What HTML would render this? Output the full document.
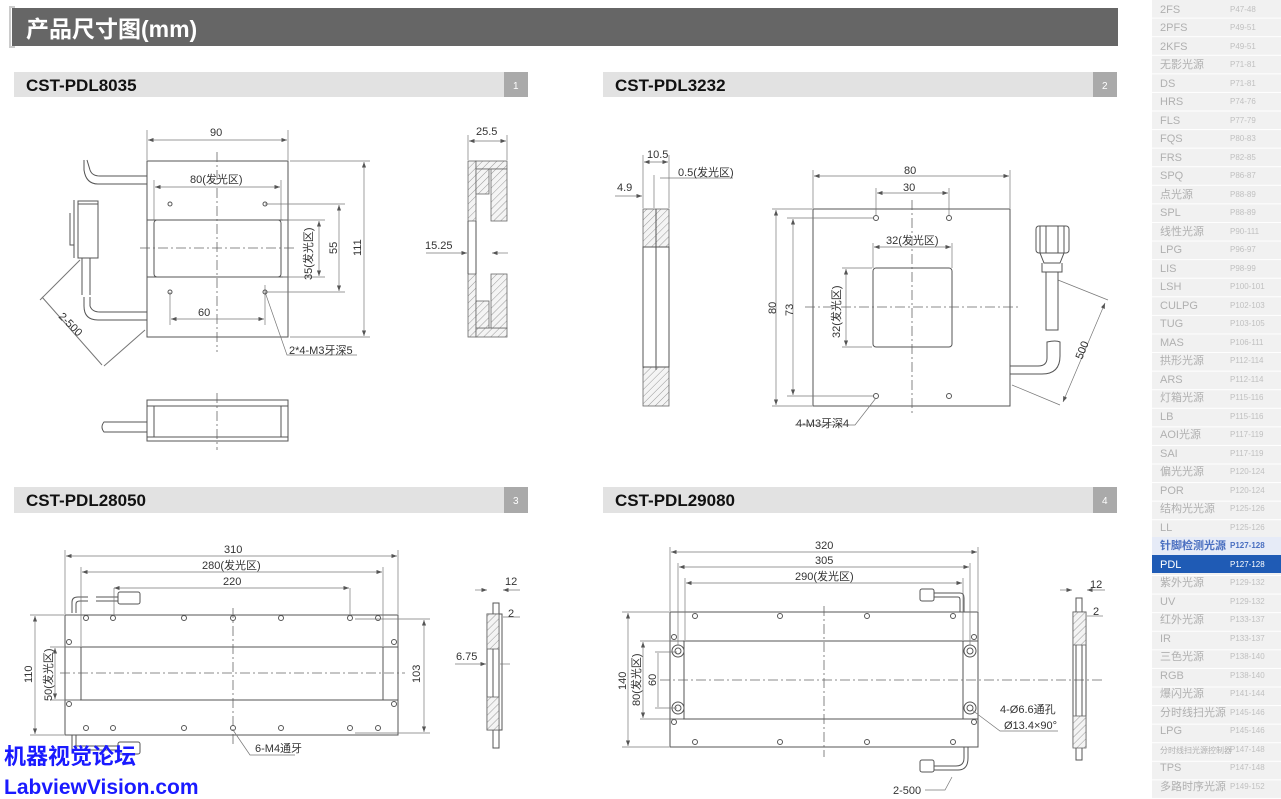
<!DOCTYPE html>
<html><head><meta charset="utf-8"><style>
html,body{margin:0;padding:0;background:#fff;width:1281px;height:799px;overflow:hidden}
svg{display:block}
text{font-family:"Liberation Sans","Noto Sans CJK SC",sans-serif}
.d{stroke:#555;stroke-width:1;fill:none}
.t{stroke:#777;stroke-width:.7;fill:none}
.c{stroke:#666;stroke-width:.8;fill:none;stroke-dasharray:10 3 2 3}
.h{fill:url(#hat);stroke:#666;stroke-width:.8}
.l{font-size:11px;fill:#333}
.sb{font-size:11px;fill:#b0b0b0}
.sp{font-size:8px;fill:#c0c0c0}
</style></head><body>
<svg width="1281" height="799" viewBox="0 0 1281 799" xmlns="http://www.w3.org/2000/svg">
<defs>
<pattern id="hat" width="5" height="5" patternUnits="userSpaceOnUse" patternTransform="rotate(45)"><rect width="5" height="5" fill="#f4f4f4"/><line x1="0" y1="0" x2="0" y2="5" stroke="#999" stroke-width="1"/></pattern>
<pattern id="rows" x="0" y="0" width="129" height="18.58" patternUnits="userSpaceOnUse"><rect width="129" height="18.58" fill="#f1f1f1"/><rect y="17.6" width="129" height="1" fill="#fff"/></pattern>
<marker id="a" markerWidth="8" markerHeight="6" refX="8" refY="3" orient="auto-start-reverse"><path d="M0,0 L8,3 L0,6z" fill="#555"/></marker>
</defs>
<!-- header -->
<rect x="12" y="8" width="1106" height="38" fill="#666"/>
<path d="M15,7 H10 V47 H15" stroke="#ccc" stroke-width="2" fill="none"/>
<text x="26" y="37" font-size="23" font-weight="bold" fill="#fff">产品尺寸图(mm)</text>
<!-- section bars -->
<g font-size="17" font-weight="bold" fill="#111">
<rect x="14" y="72" width="490" height="25" fill="#e2e2e2"/><rect x="504" y="72" width="24" height="25" fill="#aaa"/>
<text x="26" y="91">CST-PDL8035</text><text x="513" y="89" font-size="10" fill="#fff" font-weight="normal">1</text>
<rect x="603" y="72" width="490" height="25" fill="#e2e2e2"/><rect x="1093" y="72" width="24" height="25" fill="#aaa"/>
<text x="615" y="91">CST-PDL3232</text><text x="1102" y="89" font-size="10" fill="#fff" font-weight="normal">2</text>
<rect x="14" y="487" width="490" height="26" fill="#e2e2e2"/><rect x="504" y="487" width="24" height="26" fill="#aaa"/>
<text x="26" y="506">CST-PDL28050</text><text x="513" y="504" font-size="10" fill="#fff" font-weight="normal">3</text>
<rect x="603" y="487" width="490" height="26" fill="#e2e2e2"/><rect x="1093" y="487" width="24" height="26" fill="#aaa"/>
<text x="615" y="506">CST-PDL29080</text><text x="1102" y="504" font-size="10" fill="#fff" font-weight="normal">4</text>
</g>
<!-- sidebar -->
<rect x="1152" y="0" width="129" height="799" fill="url(#rows)"/>

<!-- Drawing 1 -->
<rect x="147" y="161" width="141" height="176" class="d"/>
<rect x="154" y="220" width="127" height="57" rx="3" class="d"/>
<line x1="147" y1="220" x2="288" y2="220" class="d"/><line x1="147" y1="277" x2="288" y2="277" class="d"/>
<line x1="217" y1="152" x2="217" y2="352" class="c"/><line x1="140" y1="248" x2="296" y2="248" class="c"/>
<g class="t">
<line x1="147" y1="130" x2="147" y2="160"/><line x1="288" y1="130" x2="288" y2="160"/>
<line x1="148" y1="140" x2="287" y2="140" marker-start="url(#a)" marker-end="url(#a)"/>
<line x1="155" y1="187" x2="280" y2="187" marker-start="url(#a)" marker-end="url(#a)"/>
<line x1="154" y1="180" x2="154" y2="220"/><line x1="281" y1="180" x2="281" y2="220"/>
<line x1="290" y1="161" x2="370" y2="161"/><line x1="290" y1="337" x2="370" y2="337"/>
<line x1="364" y1="162" x2="364" y2="336" marker-start="url(#a)" marker-end="url(#a)"/>
<line x1="265" y1="204" x2="345" y2="204"/><line x1="265" y1="292" x2="345" y2="292"/>
<line x1="339" y1="205" x2="339" y2="291" marker-start="url(#a)" marker-end="url(#a)"/>
<line x1="283" y1="220" x2="325" y2="220"/><line x1="283" y1="277" x2="325" y2="277"/>
<line x1="319" y1="221" x2="319" y2="276" marker-start="url(#a)" marker-end="url(#a)"/>
<line x1="170" y1="292" x2="170" y2="325"/><line x1="265" y1="285" x2="265" y2="325"/>
<line x1="171" y1="319" x2="264" y2="319" marker-start="url(#a)" marker-end="url(#a)"/>
<polyline points="265,292 287,355 357,355"/>
</g>
<g class="d" stroke-width=".8">
<circle cx="170" cy="204" r="2"/><circle cx="265" cy="204" r="2"/><circle cx="170" cy="292" r="2"/><circle cx="265" cy="292" r="2"/>
<path d="M147,176 H100 Q92,176 90,170 L87,160 M147,184 H98 Q86,184 84,170 V160"/>
<path d="M147,312 H100 Q92,312 90,306 V297 M147,320 H98 Q84,320 84,306 V297"/>
<path d="M74,200 V258 M78,201 H98 V258 H78 Z M78,204 H98 M70,213 V245 H74"/>
<path d="M82,258 V295 M90,258 V295"/>
<path d="M80,260 L40,300 M145,330 L104,366 M42,297 L102,365" stroke="#777"/>
</g>
<g class="l">
<text x="210" y="136">90</text><text x="190" y="183">80(发光区)</text><text x="198" y="316">60</text>
<text x="289" y="354">2*4-M3牙深5</text>
<text transform="translate(312,280) rotate(-90)">35(发光区)</text>
<text transform="translate(337,254) rotate(-90)">55</text>
<text transform="translate(361,256) rotate(-90)">111</text>
<text transform="translate(58,317) rotate(45)">2-500</text>
</g>
<!-- bottom view 1 -->
<rect x="147" y="400" width="141" height="41" class="d"/>
<line x1="147" y1="406" x2="288" y2="406" class="d"/><line x1="147" y1="437" x2="288" y2="437" class="d"/>
<line x1="154" y1="406" x2="154" y2="437" class="d"/><line x1="281" y1="406" x2="281" y2="437" class="d"/>
<path d="M147,422 H104 Q100,427 104,432 H147" class="d"/>
<line x1="217" y1="393" x2="217" y2="450" class="c"/>
<!-- side view 1 -->
<rect x="468" y="161" width="8" height="60" class="h"/><rect x="468" y="274" width="8" height="63" class="h"/>
<rect x="476" y="161" width="31" height="8" class="h"/><rect x="476" y="328" width="31" height="9" class="h"/>
<rect x="476" y="169" width="13" height="25" class="h"/><rect x="491" y="169" width="16" height="52" class="h"/>
<rect x="476" y="301" width="13" height="27" class="h"/><rect x="491" y="274" width="16" height="54" class="h"/>
<line x1="468" y1="221" x2="468" y2="274" class="d"/><line x1="476" y1="221" x2="476" y2="274" class="d"/>
<g class="t"><line x1="468" y1="135" x2="468" y2="160"/><line x1="507" y1="135" x2="507" y2="160"/>
<line x1="469" y1="141" x2="506" y2="141" marker-start="url(#a)" marker-end="url(#a)"/>
<line x1="426" y1="253" x2="467" y2="253" marker-end="url(#a)"/><line x1="508" y1="253" x2="492" y2="253" marker-end="url(#a)"/></g>
<text x="476" y="135" class="l">25.5</text><text x="425" y="249" class="l">15.25</text>

<!-- Drawing 2 side -->
<rect x="643" y="209" width="26" height="38" class="h"/><rect x="643" y="367" width="26" height="39" class="h"/>
<rect x="643" y="247" width="26" height="120" class="d"/>
<line x1="656" y1="209" x2="656" y2="370" class="d"/>
<g class="t">
<line x1="643" y1="155" x2="643" y2="208"/><line x1="669" y1="155" x2="669" y2="208"/><line x1="654" y1="175" x2="654" y2="208"/>
<line x1="644" y1="162" x2="668" y2="162" marker-start="url(#a)" marker-end="url(#a)"/>
<polyline points="660,178 733,178"/><line x1="615" y1="196" x2="642" y2="196" marker-end="url(#a)"/>
</g>
<text x="647" y="158" class="l">10.5</text><text x="678" y="176" class="l">0.5(发光区)</text><text x="617" y="191" class="l">4.9</text>
<!-- Drawing 2 main -->
<rect x="813" y="209" width="197" height="197" class="d"/>
<rect x="873" y="268" width="79" height="79" rx="3" class="d"/>
<line x1="912" y1="200" x2="912" y2="415" class="c"/><line x1="805" y1="307" x2="1020" y2="307" class="c"/>
<g class="d" stroke-width=".8"><circle cx="876" cy="218" r="2.5"/><circle cx="949" cy="218" r="2.5"/><circle cx="876" cy="396" r="2.5"/><circle cx="949" cy="396" r="2.5"/></g>
<g class="t">
<line x1="813" y1="170" x2="813" y2="208"/><line x1="1010" y1="170" x2="1010" y2="208"/>
<line x1="814" y1="176" x2="1009" y2="176" marker-start="url(#a)" marker-end="url(#a)"/>
<line x1="876" y1="188" x2="876" y2="215"/><line x1="949" y1="188" x2="949" y2="215"/>
<line x1="877" y1="193" x2="948" y2="193" marker-start="url(#a)" marker-end="url(#a)"/>
<line x1="873" y1="243" x2="873" y2="268"/><line x1="952" y1="243" x2="952" y2="268"/>
<line x1="874" y1="247" x2="951" y2="247" marker-start="url(#a)" marker-end="url(#a)"/>
<line x1="842" y1="268" x2="872" y2="268"/><line x1="842" y1="347" x2="872" y2="347"/>
<line x1="846" y1="269" x2="846" y2="346" marker-start="url(#a)" marker-end="url(#a)"/>
<line x1="787" y1="218" x2="873" y2="218"/><line x1="787" y1="396" x2="873" y2="396"/>
<line x1="793" y1="219" x2="793" y2="395" marker-start="url(#a)" marker-end="url(#a)"/>
<line x1="772" y1="209" x2="812" y2="209"/><line x1="772" y1="406" x2="812" y2="406"/>
<line x1="776" y1="210" x2="776" y2="405" marker-start="url(#a)" marker-end="url(#a)"/>
<polyline points="876,398 855,425 795,425"/>
<line x1="1058" y1="280" x2="1108" y2="300"/><line x1="1012" y1="385" x2="1060" y2="405"/>
<line x1="1105" y1="303" x2="1063" y2="402" marker-start="url(#a)" marker-end="url(#a)"/>
</g>
<g class="d" stroke-width=".8">
<rect x="1036" y="226" width="33" height="27" rx="3"/><path d="M1040,226 V253 M1046,226 V253 M1058,226 V253 M1064,226 V253"/>
<path d="M1040,253 L1044,263 H1060 L1064,253 M1042,263 V272 H1062 V263 M1046,272 V330 H1058 V272"/>
<path d="M1010,374 H1042 Q1060,374 1060,356 V342 Q1056,340 1047,342 V358 Q1047,366 1038,366 H1010"/>
</g>
<g class="l">
<text x="904" y="174">80</text><text x="903" y="191">30</text><text x="886" y="244">32(发光区)</text>
<text x="796" y="427">4-M3牙深4</text>
<text transform="translate(840,338) rotate(-90)">32(发光区)</text>
<text transform="translate(793,316) rotate(-90)">73</text>
<text transform="translate(776,314) rotate(-90)">80</text>
<text transform="translate(1082,360) rotate(-68)">500</text>
</g>

<!-- Drawing 3 -->
<rect x="65" y="615" width="333" height="120" class="d"/>
<rect x="81" y="647" width="302" height="53" class="d"/>
<line x1="65" y1="647" x2="398" y2="647" class="d"/><line x1="65" y1="700" x2="398" y2="700" class="d"/>
<line x1="60" y1="673" x2="405" y2="673" class="c"/><line x1="233" y1="608" x2="233" y2="745" class="c"/>
<g class="d" stroke-width=".8">
<circle cx="86" cy="618" r="2.5"/><circle cx="113" cy="618" r="2.5"/><circle cx="184" cy="618" r="2.5"/><circle cx="233" cy="618" r="2.5"/><circle cx="281" cy="618" r="2.5"/><circle cx="350" cy="618" r="2.5"/><circle cx="378" cy="618" r="2.5"/>
<circle cx="69" cy="642" r="2.5"/><circle cx="394" cy="642" r="2.5"/><circle cx="69" cy="704" r="2.5"/><circle cx="394" cy="704" r="2.5"/>
<circle cx="86" cy="728" r="2.5"/><circle cx="113" cy="728" r="2.5"/><circle cx="184" cy="728" r="2.5"/><circle cx="233" cy="728" r="2.5"/><circle cx="281" cy="728" r="2.5"/><circle cx="350" cy="728" r="2.5"/><circle cx="378" cy="728" r="2.5"/>
<path d="M72,613 V602 Q72,597 78,597 H88 M76,613 V604 Q76,601 80,601 H88 M96,597 H118 M96,601 H118"/>
<rect x="118" y="592" width="22" height="12" rx="2"/>
<rect x="118" y="742" width="22" height="12" rx="2"/>
<path d="M72,735 V750 H118 M76,735 V746 H118"/>
</g>
<g class="t">
<line x1="65" y1="550" x2="65" y2="614"/><line x1="398" y1="550" x2="398" y2="614"/>
<line x1="66" y1="556" x2="397" y2="556" marker-start="url(#a)" marker-end="url(#a)"/>
<line x1="81" y1="567" x2="81" y2="646"/><line x1="383" y1="567" x2="383" y2="646"/>
<line x1="82" y1="572" x2="382" y2="572" marker-start="url(#a)" marker-end="url(#a)"/>
<line x1="114" y1="588" x2="349" y2="588" marker-start="url(#a)" marker-end="url(#a)"/><line x1="114" y1="588" x2="114" y2="616"/><line x1="350" y1="588" x2="350" y2="616"/>
<line x1="30" y1="615" x2="64" y2="615"/><line x1="30" y1="735" x2="64" y2="735"/>
<line x1="35" y1="616" x2="35" y2="734" marker-start="url(#a)" marker-end="url(#a)"/>
<line x1="50" y1="647" x2="80" y2="647"/><line x1="50" y1="700" x2="80" y2="700"/>
<line x1="55" y1="648" x2="55" y2="699" marker-start="url(#a)" marker-end="url(#a)"/>
<line x1="355" y1="619" x2="430" y2="619"/><line x1="355" y1="733" x2="430" y2="733"/>
<line x1="424" y1="620" x2="424" y2="732" marker-start="url(#a)" marker-end="url(#a)"/>
<polyline points="233,730 250,755 295,755"/>
</g>
<g class="l">
<text x="224" y="553">310</text><text x="202" y="569">280(发光区)</text><text x="223" y="585">220</text>
<text x="255" y="752">6-M4通牙</text>
<text transform="translate(32,683) rotate(-90)">110</text>
<text transform="translate(52,701) rotate(-90)">50(发光区)</text>
<text transform="translate(420,683) rotate(-90)">103</text>
</g>
<!-- side 3 -->
<rect x="487" y="614" width="15" height="116" class="d"/>
<rect x="493" y="603" width="6" height="145" class="d"/>
<rect x="487" y="614" width="12" height="35" class="h"/><rect x="487" y="697" width="12" height="33" class="h"/>
<g class="t"><line x1="475" y1="590" x2="487" y2="590" marker-end="url(#a)"/><line x1="520" y1="590" x2="503" y2="590" marker-end="url(#a)"/>
<line x1="503" y1="617" x2="520" y2="617"/><line x1="455" y1="664" x2="486" y2="664" marker-end="url(#a)"/><line x1="510" y1="664" x2="500" y2="664"/></g>
<text x="505" y="585" class="l">12</text><text x="508" y="617" class="l">2</text><text x="456" y="660" class="l">6.75</text>

<!-- Drawing 4 -->
<rect x="670" y="612" width="308" height="135" class="d"/>
<rect x="684" y="641" width="279" height="78" class="d"/>
<line x1="670" y1="641" x2="978" y2="641" class="d"/><line x1="670" y1="719" x2="978" y2="719" class="d"/>
<line x1="660" y1="680" x2="1102" y2="680" class="c"/><line x1="824" y1="606" x2="824" y2="757" class="c"/>
<g class="d" stroke-width=".8">
<circle cx="678" cy="651" r="6"/><circle cx="678" cy="651" r="3"/><circle cx="970" cy="651" r="6"/><circle cx="970" cy="651" r="3"/>
<circle cx="678" cy="708" r="6"/><circle cx="678" cy="708" r="3"/><circle cx="970" cy="708" r="6"/><circle cx="970" cy="708" r="3"/>
<circle cx="695" cy="616" r="2.5"/><circle cx="780" cy="616" r="2.5"/><circle cx="867" cy="616" r="2.5"/><circle cx="953" cy="616" r="2.5"/>
<circle cx="695" cy="742" r="2.5"/><circle cx="780" cy="742" r="2.5"/><circle cx="867" cy="742" r="2.5"/><circle cx="953" cy="742" r="2.5"/>
<circle cx="674" cy="637" r="2.5"/><circle cx="974" cy="637" r="2.5"/><circle cx="674" cy="722" r="2.5"/><circle cx="974" cy="722" r="2.5"/>
<rect x="920" y="589" width="14" height="12" rx="2"/><path d="M934,593 H960 Q964,593 964,598 V612 M934,597 H958 Q960,597 960,600 V612"/>
<rect x="920" y="760" width="14" height="12" rx="2"/><path d="M934,766 H956 Q964,766 964,758 V747 M934,770 H958 Q968,770 968,758 V747"/>
</g>
<g class="t">
<line x1="670" y1="547" x2="670" y2="611"/><line x1="978" y1="547" x2="978" y2="611"/>
<line x1="671" y1="552" x2="977" y2="552" marker-start="url(#a)" marker-end="url(#a)"/>
<line x1="678" y1="563" x2="678" y2="645"/><line x1="970" y1="563" x2="970" y2="645"/>
<line x1="679" y1="567" x2="969" y2="567" marker-start="url(#a)" marker-end="url(#a)"/>
<line x1="685" y1="578" x2="685" y2="640"/><line x1="963" y1="578" x2="963" y2="640"/>
<line x1="686" y1="583" x2="962" y2="583" marker-start="url(#a)" marker-end="url(#a)"/>
<line x1="622" y1="612" x2="669" y2="612"/><line x1="622" y1="747" x2="669" y2="747"/>
<line x1="628" y1="613" x2="628" y2="746" marker-start="url(#a)" marker-end="url(#a)"/>
<line x1="640" y1="641" x2="683" y2="641"/><line x1="640" y1="719" x2="683" y2="719"/>
<line x1="643" y1="642" x2="643" y2="718" marker-start="url(#a)" marker-end="url(#a)"/>
<line x1="655" y1="652" x2="677" y2="652"/><line x1="655" y1="708" x2="677" y2="708"/><line x1="658" y1="653" x2="658" y2="707"/>
<polyline points="972,710 1000,731 1058,731"/><polyline points="925,790 945,790 952,777"/>
</g>
<g class="l">
<text x="815" y="549">320</text><text x="815" y="564">305</text><text x="795" y="580">290(发光区)</text>
<text x="1000" y="713">4-Ø6.6通孔</text><text x="1004" y="729">Ø13.4×90°</text><text x="893" y="794">2-500</text>
<text transform="translate(626,690) rotate(-90)">140</text>
<text transform="translate(640,706) rotate(-90)">80(发光区)</text>
<text transform="translate(656,686) rotate(-90)">60</text>
</g>
<!-- side 4 -->
<rect x="1073" y="612" width="13" height="135" class="d"/>
<rect x="1076" y="598" width="6" height="162" class="d"/>
<rect x="1073" y="612" width="13" height="33" class="h"/><rect x="1073" y="716" width="13" height="32" class="h"/>
<g class="t"><line x1="1060" y1="590" x2="1072" y2="590" marker-end="url(#a)"/><line x1="1105" y1="590" x2="1087" y2="590" marker-end="url(#a)"/><line x1="1087" y1="616" x2="1103" y2="616"/></g>
<text x="1090" y="588" class="l">12</text><text x="1093" y="615" class="l">2</text>

<!-- watermark -->
<text x="4" y="764" font-size="22" font-weight="bold" fill="#1a1aff">机器视觉论坛</text>
<text x="4" y="794" font-size="21" font-weight="bold" fill="#1a1aff">LabviewVision.com</text>

<!-- sidebar items -->
<g>
<rect x="1152" y="537" width="129" height="18" fill="#e6ebf7"/>
<rect x="1152" y="555" width="129" height="18" fill="#1f5bb5"/>
</g>
<g class="sb">
<text x="1160" y="13">2FS</text><text x="1160" y="31">2PFS</text><text x="1160" y="50">2KFS</text><text x="1160" y="68">无影光源</text>
<text x="1160" y="87">DS</text><text x="1160" y="105">HRS</text><text x="1160" y="124">FLS</text><text x="1160" y="142">FQS</text>
<text x="1160" y="161">FRS</text><text x="1160" y="179">SPQ</text><text x="1160" y="198">点光源</text><text x="1160" y="216">SPL</text>
<text x="1160" y="235">线性光源</text><text x="1160" y="253">LPG</text><text x="1160" y="272">LIS</text><text x="1160" y="290">LSH</text>
<text x="1160" y="309">CULPG</text><text x="1160" y="327">TUG</text><text x="1160" y="346">MAS</text><text x="1160" y="364">拱形光源</text>
<text x="1160" y="383">ARS</text><text x="1160" y="401">灯箱光源</text><text x="1160" y="420">LB</text><text x="1160" y="438">AOI光源</text>
<text x="1160" y="457">SAI</text><text x="1160" y="475">偏光光源</text><text x="1160" y="494">POR</text><text x="1160" y="512">结构光光源</text>
<text x="1160" y="531">LL</text>
<text x="1160" y="549" fill="#4a6fc0" font-weight="bold">针脚检测光源</text>
<text x="1160" y="568" fill="#fff">PDL</text>
<text x="1160" y="586">紫外光源</text><text x="1160" y="605">UV</text><text x="1160" y="623">红外光源</text><text x="1160" y="642">IR</text>
<text x="1160" y="660">三色光源</text><text x="1160" y="679">RGB</text><text x="1160" y="697">爆闪光源</text><text x="1160" y="716">分时线扫光源</text>
<text x="1160" y="734">LPG</text><text x="1160" y="753" font-size="8">分时线扫光源控制器</text><text x="1160" y="771">TPS</text><text x="1160" y="790">多路时序光源</text>
</g>
<g class="sp">
<text x="1230" y="12">P47-48</text><text x="1230" y="30">P49-51</text><text x="1230" y="49">P49-51</text><text x="1230" y="67">P71-81</text>
<text x="1230" y="86">P71-81</text><text x="1230" y="104">P74-76</text><text x="1230" y="123">P77-79</text><text x="1230" y="141">P80-83</text>
<text x="1230" y="160">P82-85</text><text x="1230" y="178">P86-87</text><text x="1230" y="197">P88-89</text><text x="1230" y="215">P88-89</text>
<text x="1230" y="234">P90-111</text><text x="1230" y="252">P96-97</text><text x="1230" y="271">P98-99</text><text x="1230" y="289">P100-101</text>
<text x="1230" y="308">P102-103</text><text x="1230" y="326">P103-105</text><text x="1230" y="345">P106-111</text><text x="1230" y="363">P112-114</text>
<text x="1230" y="382">P112-114</text><text x="1230" y="400">P115-116</text><text x="1230" y="419">P115-116</text><text x="1230" y="437">P117-119</text>
<text x="1230" y="456">P117-119</text><text x="1230" y="474">P120-124</text><text x="1230" y="493">P120-124</text><text x="1230" y="511">P125-126</text>
<text x="1230" y="530">P125-126</text>
<text x="1230" y="548" fill="#4a6fc0" font-weight="bold">P127-128</text>
<text x="1230" y="567" fill="#fff">P127-128</text>
<text x="1230" y="585">P129-132</text><text x="1230" y="604">P129-132</text><text x="1230" y="622">P133-137</text><text x="1230" y="641">P133-137</text>
<text x="1230" y="659">P138-140</text><text x="1230" y="678">P138-140</text><text x="1230" y="696">P141-144</text><text x="1230" y="715">P145-146</text>
<text x="1230" y="733">P145-146</text><text x="1230" y="752">P147-148</text><text x="1230" y="770">P147-148</text><text x="1230" y="789">P149-152</text>
</g>
</svg>
</body></html>
